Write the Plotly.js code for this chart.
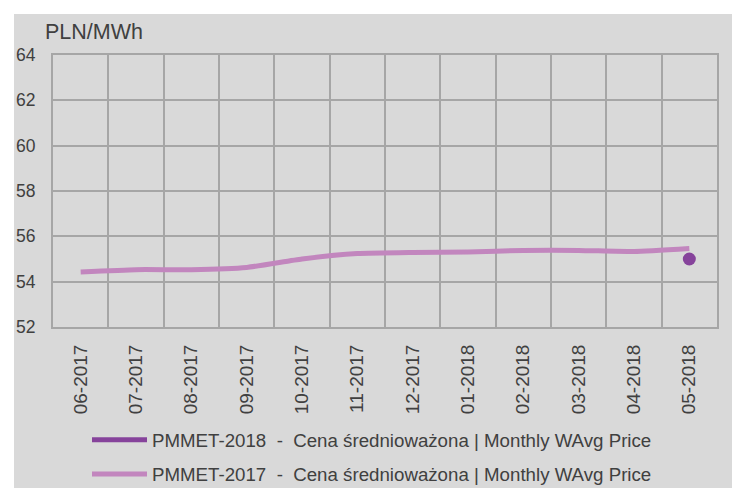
<!DOCTYPE html>
<html>
<head>
<meta charset="utf-8">
<script src="https://cdn.plot.ly/plotly-3.0.1.min.js"></script>
<style>
  html, body { margin: 0; padding: 0; background: #ffffff; }
  #chart { position: absolute; left: 14px; top: 14px; width: 718px; height: 474px; }
</style>
</head>
<body>
<div id="chart"></div>
<script>
// Categories (months)
const months = ['06-2017','07-2017','08-2017','09-2017','10-2017','11-2017','12-2017','01-2018','02-2018','03-2018','04-2018','05-2018'];
// PMMET-2017 monthly weighted-average price (PLN/MWh)
const pmmet2017 = [54.43, 54.53, 54.53, 54.63, 55.00, 55.24, 55.29, 55.31, 55.38, 55.38, 55.33, 55.46];
// PMMET-2018 (only last month available)
const months2018 = ['05-2018'];
const pmmet2018 = [55.0];
// Y axis ticks
const yTicks = [52, 54, 56, 58, 60, 62, 64];

const name2018 = 'PMMET-2018 \u00a0-\u00a0 Cena średnioważona | Monthly WAvg Price';
const name2017 = 'PMMET-2017 \u00a0-\u00a0 Cena średnioważona | Monthly WAvg Price';

const FONT = 'Liberation Sans, Arial, sans-serif';
const TXT = '#404040';
const GRID = '#a6a6a6';
const BG = '#d9d9d9';

const data = [
  { x: months2018, y: pmmet2018, name: name2018, type: 'scatter', mode: 'lines',
    line: { color: '#86439b', width: 5 }, legendgroup: 'g18' },
  { x: months2018, y: pmmet2018, name: name2018, type: 'scatter', mode: 'markers',
    marker: { color: '#86439b', size: 13 }, legendgroup: 'g18', showlegend: false },
  { x: months, y: pmmet2017, name: name2017, type: 'scatter', mode: 'lines',
    line: { color: '#c286be', width: 5, shape: 'spline', smoothing: 0.5 }, legendgroup: 'g17' }
];

const layout = {
  width: 718, height: 474,
  paper_bgcolor: BG, plot_bgcolor: BG,
  margin: { l: 39, r: 15, t: 41, b: 161, autoexpand: false },
  font: { family: FONT, color: TXT },
  showlegend: true,
  xaxis: {
    type: 'category', categoryorder: 'array', categoryarray: months,
    tickson: 'boundaries', showgrid: true, gridcolor: GRID, gridwidth: 2,
    showline: true, linecolor: GRID, linewidth: 2, mirror: true,
    ticks: '', tickangle: -90, ticklabelstandoff: 8,
    tickfont: { family: FONT, size: 19, color: TXT },
    range: [-0.5, 11.5], fixedrange: true, automargin: false
  },
  yaxis: {
    range: [52, 64], tickvals: yTicks, ticktext: yTicks.map(String),
    showgrid: true, gridcolor: GRID, gridwidth: 2, zeroline: false,
    showline: true, linecolor: GRID, linewidth: 2, mirror: true,
    ticks: '', ticklabelstandoff: 12,
    tickfont: { family: FONT, size: 17.5, color: TXT }, fixedrange: true, automargin: false
  },
  legend: {
    orientation: 'v', xref: 'container', yref: 'container',
    x: 73 / 718, xanchor: 'left', y: 1 - 407 / 474, yanchor: 'top',
    bgcolor: 'rgba(0,0,0,0)', borderwidth: 0, itemwidth: 55,
    font: { family: FONT, size: 18.7, color: TXT },
    tracegroupgap: 7, traceorder: 'grouped'
  },
  annotations: [{
    text: 'PLN/MWh', xref: 'paper', yref: 'paper', x: -10 / 664, y: 1,
    xanchor: 'left', yanchor: 'bottom', yshift: 9, showarrow: false,
    font: { family: FONT, size: 21.5, color: TXT }
  }]
};

Plotly.newPlot('chart', data, layout, { displayModeBar: false, staticPlot: true });
</script>
</body>
</html>
